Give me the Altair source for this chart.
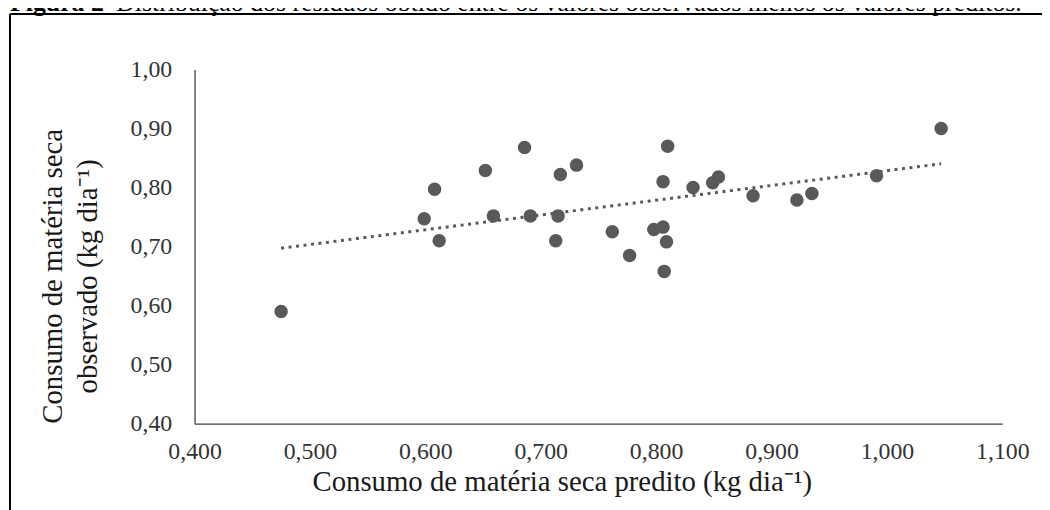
import altair as alt
import pandas as pd

# Predicted (x) and observed (y) dry-matter intake, kg/day
pred = [0.475, 0.599, 0.608, 0.612, 0.652, 0.659, 0.686, 0.691, 0.713, 0.715,
        0.717, 0.731, 0.762, 0.777, 0.798, 0.806, 0.806, 0.807, 0.809, 0.810,
        0.832, 0.849, 0.854, 0.884, 0.922, 0.935, 0.991, 1.047]
obs = [0.590, 0.747, 0.797, 0.710, 0.829, 0.752, 0.868, 0.752, 0.710, 0.752,
       0.822, 0.838, 0.725, 0.685, 0.729, 0.733, 0.810, 0.658, 0.708, 0.870,
       0.800, 0.808, 0.818, 0.786, 0.779, 0.790, 0.820, 0.900]

x_ticks = [0.4, 0.5, 0.6, 0.7, 0.8, 0.9, 1.0, 1.1]
y_ticks = [0.4, 0.5, 0.6, 0.7, 0.8, 0.9, 1.0]

caption_bold = "Figura 2"
caption_text = "Distribuição dos resíduos obtido entre os valores observados menos os valores preditos."
x_title = "Consumo de matéria seca predito (kg dia⁻¹)"
y_title = ["Consumo de matéria seca", "observado (kg dia⁻¹)"]

df = pd.DataFrame({"pred": pred, "obs": obs})

FONT = "Liberation Serif"
GRAY = "#595959"
AXIS = "#404040"

x_enc = alt.X(
    "pred:Q",
    scale=alt.Scale(domain=[0.4, 1.1], nice=False, zero=False),
    axis=alt.Axis(
        values=x_ticks,
        labelExpr="replace(format(datum.value, '.3f'), '.', ',')",
        grid=False, ticks=False, tickSize=0,
        domainColor=AXIS, domainWidth=1.3,
        labelFont=FONT, labelFontSize=24, labelColor="#333333",
        labelBaseline="alphabetic", labelPadding=35,
        labelFlush=False, labelOverlap=False,
        title=x_title, titleFont=FONT, titleFontSize=29,
        titleFontWeight="normal", titleColor="#1a1a1a",
        titleBaseline="alphabetic", titleAlign="center",
        titleX=370, titleY=67,
    ),
)
y_enc = alt.Y(
    "obs:Q",
    scale=alt.Scale(domain=[0.4, 1.0], nice=False, zero=False),
    axis=alt.Axis(
        values=y_ticks,
        labelExpr="replace(format(datum.value, '.2f'), '.', ',')",
        grid=False, ticks=False, tickSize=0,
        domainColor=AXIS, domainWidth=1.3,
        labelFont=FONT, labelFontSize=24, labelColor="#333333",
        labelPadding=23, labelFlush=False, labelOverlap=False,
        title=y_title, titleFont=FONT, titleFontSize=29,
        titleFontWeight="normal", titleColor="#1a1a1a",
        titleLineHeight=35, titleAlign="center",
        titleX=-128, titleY=208,
    ),
)

points = alt.Chart(df).mark_circle(size=185, color=GRAY, opacity=1).encode(
    x=x_enc, y=y_enc
)

trend = (
    alt.Chart(df)
    .transform_regression("pred", "obs")
    .mark_line(color=GRAY, strokeWidth=3, strokeDash=[3, 4.6])
    .encode(x="pred:Q", y="obs:Q")
)

deco = alt.Chart(alt.Data(values=[{"k": 0}]))
frame_top = deco.mark_rule(color="black", strokeWidth=2).encode(
    x=alt.value(-186), x2=alt.value(860), y=alt.value(-56)
)
frame_left = deco.mark_rule(color="black", strokeWidth=2).encode(
    x=alt.value(-186), y=alt.value(-56), y2=alt.value(445)
)
cap_b = deco.mark_text(
    font=FONT, fontSize=26, fontWeight="bold", align="left",
    baseline="alphabetic", color="black"
).encode(x=alt.value(-186), y=alt.value(-59), text=alt.value(caption_bold))
cap_t = deco.mark_text(
    font=FONT, fontSize=26, align="left", baseline="alphabetic", color="black"
).encode(x=alt.value(-79), y=alt.value(-59), text=alt.value(caption_text))

chart = (
    alt.layer(points, trend, frame_top, frame_left, cap_b, cap_t)
    .properties(
        width=814, height=357,
        padding={"left": 188, "top": 60, "right": 40, "bottom": 85},
        autosize=alt.AutoSizeParams(type="none"),
    )
    .configure_view(stroke=None)
)

chart.save("out.html", embed_options={"renderer": "svg", "actions": False})
